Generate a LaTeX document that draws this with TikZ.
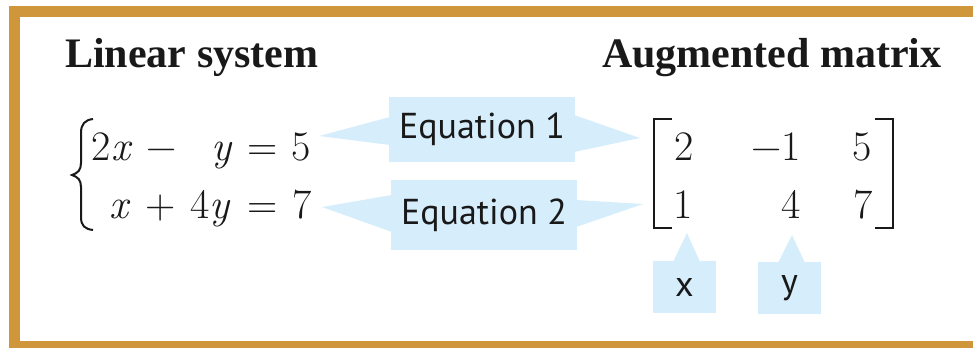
\documentclass[tikz,border=0pt]{standalone}
\usepackage{fontspec}
\newfontfamily\serifhead{Liberation Serif}
\newfontfamily\handfont{PT Sans}
\usetikzlibrary{calc}
\definecolor{framecol}{RGB}{207,150,60}
\definecolor{callblue}{RGB}{214,238,251}
\definecolor{inkcol}{RGB}{25,25,25}
\tikzset{
  heading/.style={anchor=base west,inner sep=0pt,font=\serifhead\fontsize{42}{48}\selectfont\bfseries,text=inkcol},
  mtok/.style={anchor=base,inner sep=0pt,font=\rmfamily\fontsize{42}{50}\selectfont\addfontfeatures{FakeBold=0.9},text=inkcol},
  callbox/.style={fill=callblue,inner sep=0pt,font=\handfont\fontsize{36}{40}\selectfont,text=inkcol},
  callwedge/.style={fill=callblue},
  delim/.style={draw=inkcol,line width=2.4pt},
}
\newcommand{\vx}{{\itshape\addfontfeatures{FakeBold=0.9}x}}
\newcommand{\vy}{{\itshape\addfontfeatures{FakeBold=0.9}y}}
\begin{document}
\begin{tikzpicture}[x=1pt,y=-1pt]
\useasboundingbox (0,0) rectangle (973,348);
% frame
\fill[framecol] (9,6) rectangle (973,17);
\fill[framecol] (9,6) rectangle (20,348);
\fill[framecol] (9,341) rectangle (973,348);
% headings
\node[heading] (hlin) at (65,67) {Linear system};
\node[heading] (haug) at (602,67) {Augmented matrix};
% brace
\draw[delim,line width=2pt] (93,119) .. controls (85,120) and (81,124) .. (81,133) -- (81,163) .. controls (81,170) and (78,173) .. (72,175) .. controls (78,177) and (81,180) .. (81,187) -- (81,217) .. controls (81,226) and (85,229) .. (93,230);
% system line 1
\node[mtok] (s11) at (111,160) {2\vx};
\node[mtok] (s12) at (161.5,160) {−};
\node[mtok] (s13) at (221,160) {\vy};
\node[mtok] (s14) at (262.5,160) {=};
\node[mtok] (s15) at (301,160) {5};
% system line 2
\node[mtok] (s21) at (119,218) {\vx};
\node[mtok] (s22) at (160.5,218) {+};
\node[mtok] (s23) at (210,218) {4\vy};
\node[mtok] (s24) at (262.5,218) {=};
\node[mtok] (s25) at (302,218) {7};
% matrix
\draw[delim] (672,119) -- (654,119) -- (654,228) -- (672,228);
\draw[delim] (875,119) -- (893,119) -- (893,228) -- (875,228);
\node[mtok] (m11) at (684,160) {2};
\node[mtok] (m12) at (776,160) {−1};
\node[mtok] (m13) at (862,160) {5};
\node[mtok] (m21) at (683.5,218) {1};
\node[mtok] (m22) at (791,218) {4};
\node[mtok] (m23) at (863,218) {7};
% callouts for equations
\node[callbox,minimum width=186pt,minimum height=65pt] (eqa) at (482,129.5) {Equation 1};
\node[callbox,minimum width=186pt,minimum height=70pt] (eqb) at (484,215) {Equation 2};
\coordinate (ta1) at (319,136);
\coordinate (ta2) at (640,138);
\coordinate (tb1) at (322,207);
\coordinate (tb2) at (643,204);
\fill[callwedge] ($(eqa.west)+(1,-12.5)$) -- (ta1) -- ($(eqa.west)+(1,15.5)$) -- cycle;
\fill[callwedge] ($(eqa.east)+(-1,-14.5)$) -- (ta2) -- ($(eqa.east)+(-1,22.5)$) -- cycle;
\fill[callwedge] ($(eqb.west)+(1,-20)$) -- (tb1) -- ($(eqb.west)+(1,17)$) -- cycle;
\fill[callwedge] ($(eqb.east)+(-1,-15)$) -- (tb2) -- ($(eqb.east)+(-1,12)$) -- cycle;
% x / y labels
\node[callbox,minimum width=63pt,minimum height=52pt] (xb) at (684.5,287) {x};
\node[callbox,minimum width=63pt,minimum height=52pt] (yb) at (789.5,288) {y};
\coordinate (xt) at (687,233);
\coordinate (yt) at (792,235);
\fill[callwedge] ($(xb.north)+(-11.5,1)$) -- (xt) -- ($(xb.north)+(15.5,1)$) -- cycle;
\fill[callwedge] ($(yb.north)+(-11.5,1)$) -- (yt) -- ($(yb.north)+(15.5,1)$) -- cycle;
\end{tikzpicture}
\end{document}
